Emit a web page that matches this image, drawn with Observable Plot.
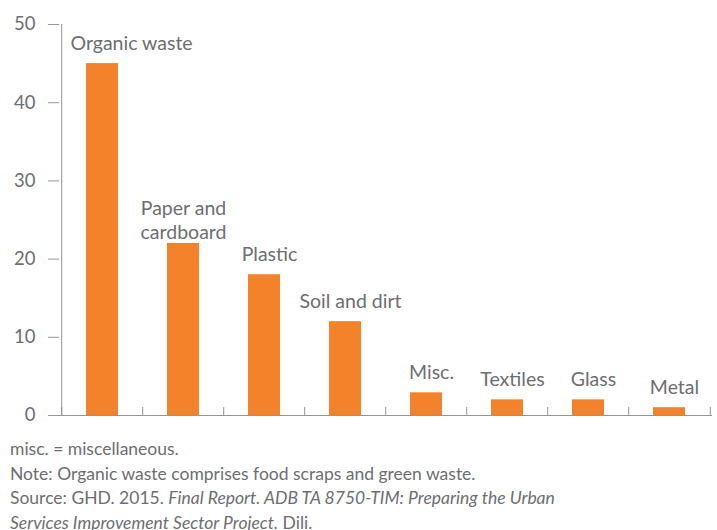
<!DOCTYPE html>
<html>
<head>
<meta charset="utf-8">
<script src="https://cdn.jsdelivr.net/npm/d3@7"></script>
<script src="https://cdn.jsdelivr.net/npm/@observablehq/plot@0.6"></script>
<style>
  body { margin: 0; background: #fff; font-family: Lato, "Open Sans", sans-serif; }
  #notes { color: #6d6e71; font-size: 17.5px; line-height: 24.5px; padding-left: 10px; margin-top: 12px; }
</style>
</head>
<body>
<div id="chart"></div>
<div id="notes">
  <div>misc. = miscellaneous.</div>
  <div>Note: Organic waste comprises food scraps and green waste.</div>
  <div>Source: GHD. 2015. <i>Final Report. ADB TA 8750-TIM: Preparing the Urban</i></div>
  <div><i>Services Improvement Sector Project.</i> Dili.</div>
</div>
<script>
const categories = ["Organic waste", "Paper and cardboard", "Plastic", "Soil and dirt", "Misc.", "Textiles", "Glass", "Metal"];
const labels = ["Organic waste", "Paper and\ncardboard", "Plastic", "Soil and dirt", "Misc.", "Textiles", "Glass", "Metal"];
const values = [45, 22, 18, 12, 2.9, 2, 2, 1];
const yTicks = [0, 10, 20, 30, 40, 50];

const data = categories.map((c, i) => ({category: c, label: labels[i], value: values[i]}));

const width = 717, marginLeft = 59, marginRight = 5;
const step = (width - marginLeft - marginRight) / categories.length;
const grey = "#939598", textGrey = "#6d6e71";
const fontFamily = "Lato, 'Open Sans', sans-serif";

const plot = Plot.plot({
  width,
  height: 425,
  marginLeft,
  marginRight,
  marginTop: 24,
  marginBottom: 10,
  style: {fontFamily, color: textGrey, background: "#fff"},
  x: {domain: categories, paddingInner: 0.61, paddingOuter: 0.305, align: 0.5, axis: null},
  y: {domain: [0, 50], axis: null, label: null},
  marks: [
    Plot.barY(data, {x: "category", y: "value", fill: "#f3822b"}),
    Plot.axisY({ticks: yTicks, label: null, tickSize: 11, tickPadding: 13, stroke: grey, fill: textGrey, fontSize: 18.5}),
    Plot.ruleY([0], {stroke: grey, insetLeft: -11}),
    Plot.ruleX(categories.slice(0, 1), {x: d => d, y1: 0, y2: 50, dx: -step / 2, stroke: grey}),
    Plot.ruleX(categories, {x: d => d, y1: 0, y2: 0, insetTop: -8, dx: -step / 2, stroke: grey}),
    Plot.ruleX(categories.slice(-1), {x: d => d, y1: 0, y2: 0, insetTop: -8, dx: step / 2, stroke: grey}),
    Plot.text(data.slice(0, 1), {x: "category", y: "value", text: "label", textAnchor: "start", dx: -32, dy: -14, lineAnchor: "bottom", fontSize: 19.5, fill: textGrey}),
    Plot.text(data.slice(1, 2), {x: "category", y: "value", text: "label", dy: -4, lineAnchor: "bottom", lineHeight: 1.27, fontSize: 19.5, fill: textGrey}),
    Plot.text(data.slice(2), {x: "category", y: "value", text: "label", dx: 5, dy: -14, lineAnchor: "bottom", fontSize: 19.5, fill: textGrey})
  ]
});
document.getElementById("chart").append(plot);
</script>
</body>
</html>
